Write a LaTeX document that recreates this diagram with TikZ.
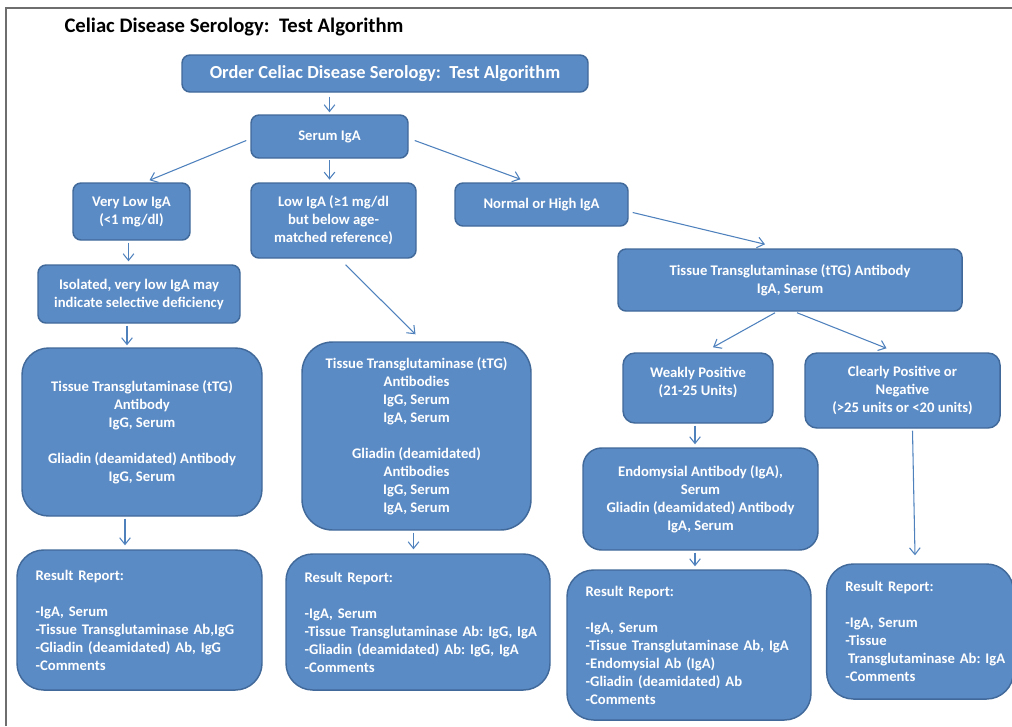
\documentclass[tikz,border=0pt]{standalone}
\usepackage{fontspec}
\setmainfont{Carlito}
\usetikzlibrary{arrows.meta,positioning,calc}
\definecolor{BoxFill}{HTML}{5B8BC5}
\definecolor{BoxEdge}{HTML}{41699A}
\definecolor{Link}{HTML}{4F81BD}
\definecolor{Frame}{HTML}{6E6E6E}
\frenchspacing

\begin{document}
\begin{tikzpicture}[x=0.75pt,y=-0.75pt,
    box/.style={draw=BoxEdge,line width=1.1pt,fill=BoxFill,rounded corners=6pt,text=white,
      font=\fontsize{11}{13.5}\selectfont\bfseries,align=center,inner sep=0pt},
    bigbox/.style={box,rounded corners=20pt},
    report/.style={box,rounded corners=20pt,align=left,inner xsep=14pt},
    link/.style={draw=Link,line width=0.8pt,-{Straight Barb[length=5pt,width=8pt]}}]
  \useasboundingbox (0,0) rectangle (1012,726);
  \draw[Frame,line width=1.5pt] (5.5,726) -- (5.5,7.5) -- (1012,7.5);

  \node[font=\fontsize{15.5}{18}\selectfont\bfseries] (title) at (234,27) {Celiac Disease Serology:\ \ Test Algorithm};

  % first levels
  \node[box,font=\fontsize{13.8}{16}\selectfont\bfseries,minimum width=304.5pt,minimum height=27.75pt] (order) at (385,73.5) {Order Celiac Disease Serology:\ \ Test Algorithm};
  \node[box,minimum width=117.75pt,minimum height=32.25pt] (serum) at (329.5,136.5) {Serum IgA};
  \node[box,minimum width=87.75pt,minimum height=42.75pt] (vlow) at (131.5,211.5) {Very Low IgA\\(<1 mg/dl)};
  \node[box,minimum width=123.75pt,minimum height=56.25pt] (low) at (333.5,220.5) {Low IgA\ (≥1 mg/dl\\but below age-\\matched reference)};
  \node[box,minimum width=129.75pt,minimum height=32.25pt] (normal) at (541.5,204.5) {Normal or High IgA};
  \node[box,minimum width=151.5pt,minimum height=43.5pt] (iso) at (139,294) {Isolated, very low IgA may\\indicate selective deficiency};
  \node[box,minimum width=258pt,minimum height=46.5pt] (ttga) at (790,280) {Tissue Transglutaminase (tTG) Antibody\\IgA, Serum};

  % tests
  \node[bigbox,minimum width=180pt,minimum height=126pt] (testl) at (142,432) {Tissue Transglutaminase (tTG)\\Antibody\\IgG, Serum\\[13.5pt]Gliadin (deamidated) Antibody\\IgG, Serum};
  \node[bigbox,rounded corners=23pt,minimum width=171.75pt,minimum height=141pt] (testm) at (416.5,436) {Tissue Transglutaminase (tTG)\\Antibodies\\IgG, Serum\\IgA, Serum\\[13.5pt]Gliadin (deamidated)\\Antibodies\\IgG, Serum\\IgA, Serum};
  \node[box,rounded corners=9pt,minimum width=112.5pt,minimum height=52.5pt] (weak) at (698,388) {Weakly Positive\\(21-25 Units)\\[-4pt]};
  \node[box,rounded corners=9pt,minimum width=146.25pt,minimum height=56.25pt] (clear) at (902.5,390.5) {Clearly Positive or\\Negative\\(>25 units or <20 units)};
  \node[box,rounded corners=14pt,minimum width=176.25pt,minimum height=76.5pt] (endo) at (700.5,499) {Endomysial Antibody\ (IgA),\\Serum\\Gliadin (deamidated) Antibody\\IgA, Serum};

  % result reports
  \node[report,text width=155.75pt,minimum height=105pt] (resl) at (139.5,620) {Result Report:\\[13.5pt]-IgA, Serum\\\mbox{-Tissue Transglutaminase Ab,IgG}\\\mbox{-Gliadin (deamidated) Ab, IgG}\\-Comments};
  \node[report,text width=170pt,minimum height=102pt] (resm) at (418,622) {Result Report:\\[13.5pt]-IgA, Serum\\\mbox{-Tissue Transglutaminase Ab: IgG, IgA}\\\mbox{-Gliadin (deamidated) Ab:\ IgG, IgA}\\-Comments};
  \node[report,text width=155pt,minimum height=112.5pt] (resr) at (689,645) {Result Report:\\[13.5pt]-IgA, Serum\\\mbox{-Tissue Transglutaminase\ Ab,\ IgA}\\\mbox{-Endomysial Ab\ (IgA)}\\\mbox{-Gliadin (deamidated) Ab}\\-Comments};
  \node[report,text width=112pt,minimum height=101.25pt] (resc) at (920,631.5) {Result Report:\\[13.5pt]-IgA, Serum\\-Tissue\\\mbox{\hspace{2pt}Transglutaminase\ Ab: IgA}\\-Comments};

  % connectors
  \draw[link,shorten <=3pt,shorten >=1.5pt] (order.south -| serum.north) -- (serum.north);
  \draw[link] ($(serum.west)+(-4,4)$) -- ($(vlow.north)+(18,-2)$);
  \draw[link,shorten <=1pt,shorten >=2pt] (serum.south) -- (serum.south |- low.north);
  \draw[link] ($(serum.east)+(6,4)$) -- ($(normal.north)+(-21,-3)$);
  \draw[link] ($(vlow.south)+(-3,2)$) -- ($(iso.north)+(-10.5,-3)$);
  \draw[link] ($(low.south)+(12,6)$) -- ($(testm.north)+(-1,-7)$);
  \draw[link] ($(normal.east)+(4,8)$) -- ($(ttga.north)+(-25,-4)$);
  \draw[link] ($(iso.south)+(-12,2)$) -- ($(testl.north)+(-15,-2)$);
  \draw[link] ($(ttga.south)+(-15,1)$) -- ($(weak.north)+(15,-5)$);
  \draw[link] ($(ttga.south)+(7,1)$) -- ($(clear.north)+(-16,-4)$);
  \draw[link] ($(testl.south)+(-17,2)$) -- ($(resl.north)+(-14.5,-4)$);
  \draw[link] ($(testm.south)+(-3,2)$) -- ($(resm.north)+(-4.5,-4)$);
  \draw[link] ($(weak.south)+(-3,2)$) -- ($(endo.north)+(-5.5,-3)$);
  \draw[link] ($(clear.south)+(10,2)$) -- ($(resc.north)+(-5,-8)$);
  \draw[link] ($(endo.south)+(-5.5,2)$) -- ($(resr.north)+(6,-3)$);
\end{tikzpicture}
\end{document}
